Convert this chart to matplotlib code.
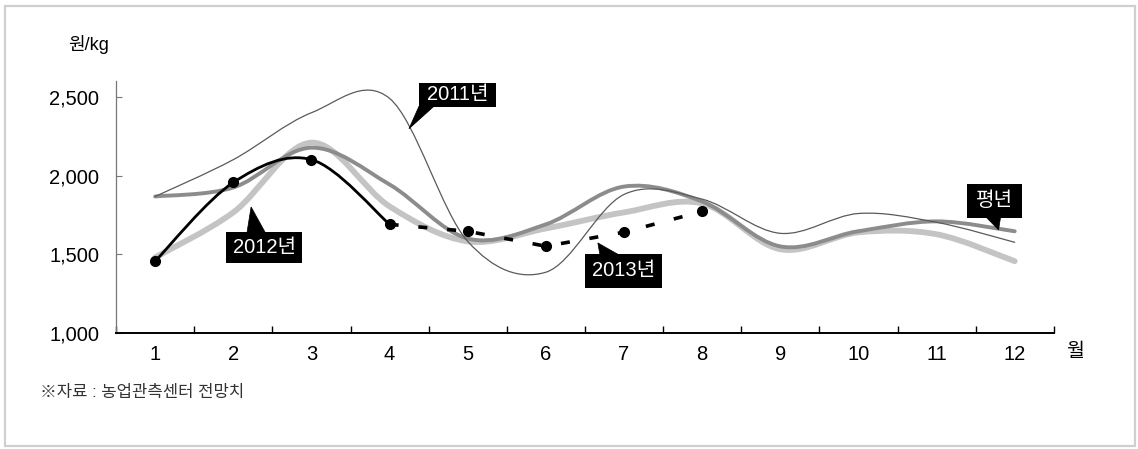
import numpy as np
import matplotlib
matplotlib.use("Agg")
import matplotlib.pyplot as plt
from matplotlib.path import Path
from matplotlib.patches import PathPatch, Rectangle, Polygon

plt.rcParams['font.family'] = ['Liberation Sans', 'Noto Sans CJK KR', 'DejaVu Sans']

# —–––– data (원/kg, by month) —––––
months = [1, 2, 3, 4, 5, 6, 7, 8, 9, 10, 11, 12]
price_2011 = [1867, 2101, 2399, 2490, 1582, 1386, 1880, 1850, 1633, 1759, 1703, 1576]
price_normal = [1867, 1924, 2177, 1943, 1600, 1690, 1930, 1835, 1550, 1646, 1709, 1646]
price_2012 = [1480, 1766, 2209, 1804, 1582, 1664, 1766, 1823, 1532, 1639, 1627, 1456]
months_2013 = [1, 2, 3, 4, 5, 6, 7, 8]
price_2013 = [1456, 1956, 2101, 1690, 1646, 1551, 1640, 1772]
n_actual_2013 = 4  # Jan-Apr actual, May-Aug outlook

y_ticks = [1000, 1500, 2000, 2500]
y_ticklabels = ['1,000', '1,500', '2,000', '2,500']


def smooth_path(xs, ys):
    # Catmull-Rom through the points, written as cubic bezier segments
    pts = np.column_stack([xs, ys]).astype(float)
    n = len(pts)
    verts = [pts[0]]
    codes = [Path.MOVETO]
    for i in range(n - 1):
        p0 = pts[i - 1] if i > 0 else pts[i]
        p1, p2 = pts[i], pts[i + 1]
        p3 = pts[i + 2] if i + 2 < n else pts[i + 1]
        verts += [p1 + (p2 - p0) / 6, p2 - (p3 - p1) / 6, p2]
        codes += [Path.CURVE4] * 3
    return Path(verts, codes)


def add_curve(ax, xs, ys, **kw):
    patch = PathPatch(smooth_path(xs, ys), fill=False, capstyle='round',
                      joinstyle='round', **kw)
    ax.add_patch(patch)
    return patch


fig = plt.figure(figsize=(11.38, 4.49), dpi=100)
fig.patches.append(Rectangle((0.004, 0.006), 0.993, 0.98, transform=fig.transFigure,
                             fill=False, ec='#cfcfcf', lw=1.6))

ax = fig.add_axes([0.102, 0.2584, 0.824, 0.561])
ax.set_xlim(0.5, 12.5)
ax.set_ylim(1000, 2600)

add_curve(ax, months, price_2012, ec='#c4c4c4', lw=4.2, zorder=2)
add_curve(ax, months, price_normal, ec='#8c8c8c', lw=2.8, zorder=3)
add_curve(ax, months, price_2011, ec='#5a5a5a', lw=0.9, zorder=4)

k = n_actual_2013
add_curve(ax, months_2013[:k], price_2013[:k], ec='black', lw=2.0, zorder=5)
ax.plot(months_2013[k - 1:], price_2013[k - 1:], color='black', lw=2.6,
        dashes=(2.5, 5.5), zorder=5)
ax.plot(months_2013, price_2013, 'o', color='black', ms=7, zorder=6)

# —–––– axes —––––
for s in ['top', 'right']:
    ax.spines[s].set_visible(False)
ax.spines['left'].set_color('#777777')
ax.spines['left'].set_linewidth(0.9)
ax.spines['bottom'].set_color('black')
ax.spines['bottom'].set_linewidth(1.4)

ax.set_yticks(y_ticks)
ax.set_yticklabels(y_ticklabels, fontsize=14.5)
ax.set_xticks(months)
ax.set_xticklabels([str(m) for m in months], fontsize=14.5)
ax.set_xticks(np.arange(0.5, 13, 1), minor=True)
ax.tick_params(axis='x', which='major', length=0, pad=9)
ax.tick_params(axis='x', which='minor', direction='in', length=5, width=1)
ax.tick_params(axis='y', direction='in', length=4, width=0.8, pad=12, color='#777777')

fig.text(0.06, 0.90, '원/kg', fontsize=13, va='center', ha='left')
fig.text(0.937, 0.215, '월', fontsize=14, va='center', ha='left')
fig.text(0.035, 0.125, '※자료 : 농업관측센터 전망치', fontsize=12, va='center', ha='left',
         color='#333333')

# —–––– callout labels: box (x0, x1, y0, y1) + pointer triangle —––––
def callout(text, box, pointer):
    x0, x1, y0, y1 = box
    ax.add_patch(Rectangle((x0, y0), x1 - x0, y1 - y0, fc='black', ec='none',
                           zorder=10, clip_on=False))
    ax.add_patch(Polygon(pointer, closed=True, fc='black', ec='black', lw=0.5,
                         zorder=10, clip_on=False))
    ax.text((x0 + x1) / 2, (y0 + y1) / 2, text, color='white', fontsize=14.5,
            ha='center', va='center', zorder=11)

callout('2011년', (4.376, 5.361, 2437, 2589),
        [(4.376, 2440), (4.568, 2440), (4.248, 2297)])
callout('2012년', (1.908, 2.880, 1445, 1642),
        [(2.176, 1640), (2.407, 1640), (2.228, 1801)])
callout('2013년', (6.499, 7.483, 1286, 1502),
        [(6.691, 1500), (6.921, 1500), (6.665, 1572)])
callout('평년', (11.384, 12.087, 1731, 1947),
        [(11.639, 1733), (11.818, 1733), (11.793, 1655)])

fig.savefig('out.png', dpi=100)
